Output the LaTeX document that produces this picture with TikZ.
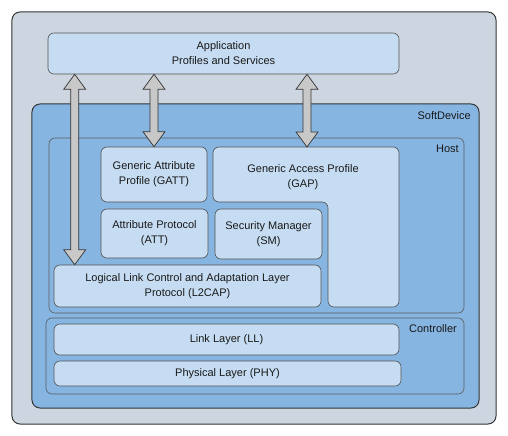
\documentclass[tikz,border=0pt]{standalone}
\usepackage{fontspec}
\setmainfont{Liberation Sans}
\usepackage{xcolor}
\usetikzlibrary{calc,positioning}
\definecolor{frameBg}{HTML}{CDD6E0}
\definecolor{devBlue}{HTML}{86B5E2}
\definecolor{blkBlue}{HTML}{C6DCF2}
\definecolor{edge}{HTML}{333333}
\definecolor{arrGray}{HTML}{C8C8C8}
\newcommand\lbl{\fontsize{11bp}{15bp}\selectfont}
\tikzset{
  frame/.style={rectangle, draw=edge, line width=1pt, rounded corners=8pt, fill=#1, inner sep=0pt},
  frame/.default=devBlue,
  blk/.style={rectangle, draw=edge!85, line width=0.6pt, fill=blkBlue, rounded corners=6pt,
              inner sep=0pt, align=center, font=\lbl, text=black!90},
  tag/.style={anchor=east, font=\lbl, inner sep=0pt, text=black!90},
  barr/.style={draw=edge, line width=0.7pt, fill=arrGray, line join=miter},
}
% vertical block arrow with two heads, #1 = top point, #2 = bottom point
\newcommand\blockarrow[2]{%
  \draw[barr] let \p1=(#1), \p2=(#2) in
    (\x1,\y1) -- (\x1+11bp,\y1-15bp) -- (\x1+4bp,\y1-15bp) -- (\x1+4bp,\y2+15bp)
    -- (\x1+11bp,\y2+15bp) -- (\x1,\y2) -- (\x1-11bp,\y2+15bp) -- (\x1-4bp,\y2+15bp)
    -- (\x1-4bp,\y1-15bp) -- (\x1-11bp,\y1-15bp) -- cycle;}

\begin{document}
\begin{tikzpicture}[x=1bp, y=-1bp]
\useasboundingbox (0,0) rectangle (508,436);

% OUTER FRAME
\node[frame=frameBg, minimum width=484bp, minimum height=412bp] (outer) at (254,218) {};

% APPLICATION
\node[blk, minimum width=351bp, minimum height=41bp] (app) at (223.5,53.5) {Application\\Profiles and Services};

% SOFTDEVICE
\node[frame, minimum width=447bp, minimum height=304bp] (soft) at (255.5,256) {};
\node[tag] at (471,116) {SoftDevice};

% HOST
\node[frame, draw=edge!80, line width=0.6pt, rounded corners=6pt, minimum width=415bp, minimum height=175bp] (host) at (256.5,225.5) {};
\node[tag] at (459,149) {Host};

\node[blk, minimum width=106bp, minimum height=55bp] (gatt) at (154,174.5) {Generic Attribute\\Profile (GATT)};
\draw[blk] (213,147) -- (399,147) -- (399,307) -- (328,307) -- (328,202) -- (213,202) -- cycle;
\node[font=\lbl, align=center, text=black!90] (gap) at (303,177) {Generic Access Profile\\(GAP)};
\coordinate (gap-top) at (307,147);
\node[blk, minimum width=107bp, minimum height=49bp] (att) at (154.5,233.5) {Attribute Protocol\\(ATT)};
\node[blk, minimum width=107bp, minimum height=50bp] (sm) at (268.5,234) {Security Manager\\(SM)};
\node[blk, minimum width=267bp, minimum height=42bp] (l2cap) at (187.5,286) {Logical Link Control and Adaptation Layer\\Protocol (L2CAP)};
\coordinate (l2cap-in) at ([xshift=21bp]l2cap.north west);

% CONTROLLER
\node[frame, draw=edge!80, line width=0.6pt, rounded corners=6pt, minimum width=418bp, minimum height=76bp] (ctrl) at (255,356) {};
\node[tag] at (457,329) {Controller};
\node[blk, minimum width=345bp, minimum height=31bp] (ll) at (226.5,339.5) {Link Layer (LL)};
\node[blk, minimum width=347bp, minimum height=25bp] (phy) at (227.5,373.5) {Physical Layer (PHY)};

% Arrows
\blockarrow{app.south -| l2cap-in}{l2cap-in}
\blockarrow{app.south -| gatt.north}{gatt.north}
\blockarrow{app.south -| gap-top}{gap-top}

\end{tikzpicture}
\end{document}
